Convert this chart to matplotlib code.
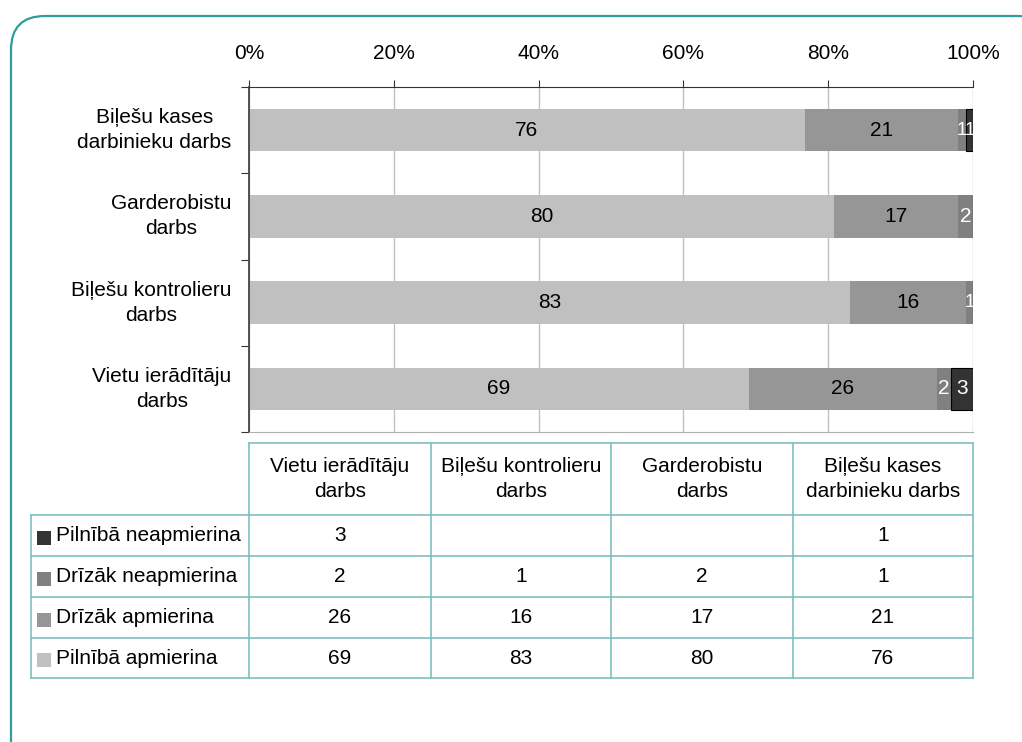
import numpy as np
import matplotlib.pyplot as plt
from matplotlib.patches import FancyBboxPatch, Rectangle

plt.rcParams['font.family'] = ['Liberation Sans', 'DejaVu Sans']

# chart rows, top to bottom
categories = ["Biļešu kases\ndarbinieku darbs", "Garderobistu\ndarbs",
              "Biļešu kontrolieru\ndarbs", "Vietu ierādītāju\ndarbs"]
series = ["Pilnībā apmierina", "Drīzāk apmierina", "Drīzāk neapmierina", "Pilnībā neapmierina"]
full_yes = [76, 80, 83, 69]
rather_yes = [21, 17, 16, 26]
rather_no = [1, 2, 1, 2]
full_no = [1, 0, 0, 3]
colors = ["#C0C0C0", "#969696", "#808080", "#333333"]
text_colors = ["black", "black", "white", "white"]
xticks = [0, 20, 40, 60, 80, 100]

# table columns (bottom to top of chart)
table_cols = ["Vietu ierādītāju\ndarbs", "Biļešu kontrolieru\ndarbs",
              "Garderobistu\ndarbs", "Biļešu kases\ndarbinieku darbs"]

FS = 15
W, H = 1022, 742
fig = plt.figure(figsize=(W / 100, H / 100), dpi=100)

# overlay in pixel coords for the frame and table
ov = fig.add_axes([0, 0, 1, 1], zorder=0)
ov.set_xlim(0, W)
ov.set_ylim(H, 0)
ov.axis("off")
ov.add_patch(FancyBboxPatch((11, 16), 1040, 760, boxstyle="round,pad=0,rounding_size=34",
                            fc="none", ec="#2E9C98", lw=1.6))

ax = fig.add_axes([249 / W, 1 - 432 / H, (973 - 249) / W, (432 - 87) / H], zorder=1)
ax.patch.set_alpha(0)

data = np.array([full_yes, rather_yes, rather_no, full_no], dtype=float)
pct = data / data.sum(axis=0) * 100
y = np.arange(len(categories))[::-1]
left = np.zeros(len(categories))
for i in range(len(series)):
    ec = "black" if i == 3 else "none"
    ax.barh(y, pct[i], left=left, height=0.49, color=colors[i], edgecolor=ec, lw=0.8, zorder=2)
    for j in range(len(categories)):
        if data[i, j] > 0:
            fs = FS - 1.5 if pct[i, j] < 1.5 else FS
            ax.text(left[j] + pct[i, j] / 2, y[j], f"{int(data[i, j])}", ha="center", va="center",
                    fontsize=fs, color=text_colors[i], zorder=3)
    left += pct[i]

ax.set_xlim(0, 100)
ax.set_ylim(-0.5, len(categories) - 0.5)
ax.xaxis.tick_top()
ax.set_xticks(xticks)
ax.set_xticklabels([f"{t}%" for t in xticks], fontsize=FS)
ax.tick_params(axis="x", direction="out", length=5, color="#333333", pad=12)
ax.set_yticks(np.arange(len(categories) + 1) - 0.5)
ax.set_yticklabels([])
ax.tick_params(axis="y", direction="out", length=6, color="#333333")
ax.xaxis.grid(True, color="#C0C0C0", lw=1, zorder=0)
ax.spines["top"].set_color("#333333")
ax.spines["left"].set_color("#444444")
ax.spines["left"].set_linewidth(1.3)
ax.spines["bottom"].set_color("#B0B0B0")
ax.spines["right"].set_visible(False)
for j, c in enumerate(categories):
    ax.text(-0.024, y[j], c, transform=ax.get_yaxis_transform(), ha="right", va="center",
            ma="center", fontsize=FS, linespacing=1.4)

# data table
tc = "#7DC0BF"
col_x = [249, 431, 611, 793, 973]
leg_x = 31
head_top, head_bot = 443, 515
row_y = [515, 556, 597, 638, 678]
ov.plot([col_x[0], col_x[-1]], [head_top, head_top], color=tc, lw=1.2)
for yy in row_y:
    ov.plot([leg_x, col_x[-1]], [yy, yy], color=tc, lw=1.2)
for xx in col_x:
    ov.plot([xx, xx], [head_top, row_y[-1]], color=tc, lw=1.2)
ov.plot([leg_x, leg_x], [row_y[0], row_y[-1]], color=tc, lw=1.2)

for k, name in enumerate(table_cols):
    ov.text((col_x[k] + col_x[k + 1]) / 2, (head_top + head_bot) / 2, name, ha="center", va="center",
            ma="center", fontsize=FS, linespacing=1.45)

table_series = list(reversed(range(len(series))))
for r, i in enumerate(table_series):
    yc = (row_y[r] + row_y[r + 1]) / 2
    ov.add_patch(Rectangle((37, yc - 5), 14, 14, fc=colors[i], ec="none"))
    ov.text(56, yc, series[i], ha="left", va="center", fontsize=FS)
    for k in range(len(table_cols)):
        v = data[i, len(categories) - 1 - k]
        if v > 0:
            ov.text((col_x[k] + col_x[k + 1]) / 2, yc, f"{int(v)}", ha="center", va="center",
                    fontsize=FS)

fig.savefig("out.png", dpi=100)
